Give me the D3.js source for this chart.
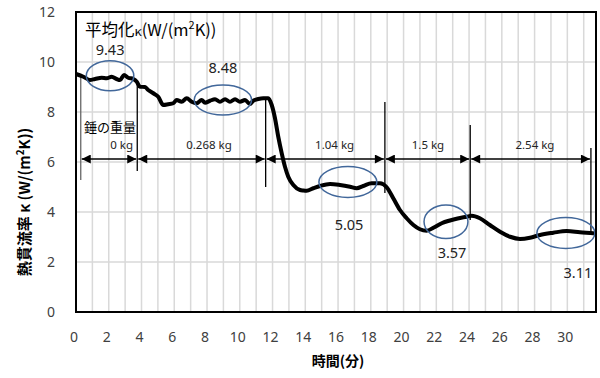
<!DOCTYPE html>
<html>
<head>
<meta charset="utf-8">
<script src="https://cdn.jsdelivr.net/npm/d3@7"></script>
<style>
  body { margin: 0; background: #fff; }
  text { font-family: "Noto Sans", "Noto Sans CJK JP", sans-serif; }
</style>
</head>
<body>
<svg id="chart"></svg>
<script>
// Chart data
var timeMin = [0, 0.45, 0.85, 1.16, 1.57, 1.87, 2.18, 2.48, 2.69, 2.93, 3.19, 3.5, 3.71, 3.91, 4.21, 4.41, 4.72,
    5.02, 5.33, 5.63, 5.94, 6.15, 6.45, 6.76, 7.06, 7.37, 7.67, 7.88, 8.18, 8.49, 8.79, 9.1, 9.4, 9.71,
    10.01, 10.32, 10.62, 10.82, 11.13, 11.43, 11.74, 11.95, 12.15, 12.35, 12.56, 12.76, 12.96, 13.27,
    13.68, 13.88, 14.08, 14.49, 14.9, 15.51, 16.12, 16.73, 17.14, 17.54, 18.05, 18.56, 18.97, 19.37,
    19.78, 20.19, 20.6, 21.0, 21.41, 21.82, 22.33, 22.83, 23.3, 23.85, 24.16, 24.66, 25.27, 25.89,
    26.5, 27.11, 27.72, 28.33, 29.14, 29.96, 30.77, 31.58, 31.75]
var kappa = [9.52, 9.41, 9.28, 9.32, 9.37, 9.35, 9.41, 9.32, 9.28, 9.48, 9.37, 9.32, 9.21, 9.01, 9.0, 8.88, 8.75,
    8.61, 8.28, 8.31, 8.35, 8.48, 8.41, 8.55, 8.41, 8.35, 8.48, 8.37, 8.45, 8.51, 8.41, 8.51, 8.41, 8.51,
    8.41, 8.48, 8.32, 8.45, 8.52, 8.55, 8.55, 8.28, 7.75, 7.01, 6.35, 5.81, 5.41, 5.08,
    4.88, 4.86, 4.85, 4.95, 5.04, 5.12, 5.08, 5.01, 4.95, 5.04, 5.15, 5.15, 4.99, 4.55,
    4.08, 3.75, 3.48, 3.31, 3.25, 3.37, 3.55, 3.66, 3.74, 3.81, 3.85, 3.75, 3.48, 3.21,
    3.01, 2.92, 2.97, 3.08, 3.17, 3.24, 3.19, 3.15, 3.14]

// weight change markers (minutes) with the span of each vertical line
var markerTime = [0.29, 3.74, 11.58, 18.86, 24.07, 31.44]
var markerTop = [9.48, 9.28, 8.6, 8.4, 7.48, 6.56]
var markerBottom = [5.28, 5.64, 5.0, 4.76, 3.68, 3.08]
var weightLabels = ["0 kg", "0.268 kg", "1.04 kg", "1.5 kg", "2.54 kg"]
var weightLabelTime = [2.79, 8.12, 15.79, 21.49, 28.02]
var arrowLevel = 6.12

// averaged values, circled on the chart
var avgLabels = ["9.43", "8.48", "5.05", "3.57", "3.11"]
var avgCenterTime = [2.08, 8.97, 16.6, 22.59, 29.91]
var avgCenterK = [9.45, 8.48, 5.2, 3.61, 3.16]
var avgRadiusTime = [1.45, 1.75, 1.77, 1.34, 1.77]
var avgRadiusK = [0.6, 0.6, 0.62, 0.67, 0.62]
var avgLabelTime = [2.08, 8.97, 16.67, 22.96, 30.65]
var avgLabelK = [10.48, 9.76, 3.48, 2.36, 1.56]

var xTicks = d3.range(0, 31, 2)
var yTicks = d3.range(0, 13, 2)

var canvasSize = {width: 600, height: 378}
var plot = {left: 76, top: 12, right: 596, bottom: 312}

var svg = d3.select("#chart")
    .attr("width", canvasSize.width)
    .attr("height", canvasSize.height)

var x = d3.scaleLinear().domain([0, 31.75]).range([plot.left, plot.right])
var y = d3.scaleLinear().domain([0, 12]).range([plot.bottom, plot.top])

// gridlines
var grid = svg.append("g").attr("stroke", "#d9d9d9").attr("stroke-width", 1.5)
grid.selectAll("line.v")
    .data(d3.range(1, 32))
    .enter().append("line")
    .attr("class", "v")
    .attr("x1", d => x(d)).attr("x2", d => x(d))
    .attr("y1", plot.top).attr("y2", plot.bottom)
grid.selectAll("line.h")
    .data(yTicks.slice(1, -1))
    .enter().append("line")
    .attr("class", "h")
    .attr("x1", plot.left).attr("x2", plot.right)
    .attr("y1", d => y(d)).attr("y2", d => y(d))

// tick labels
svg.append("g").selectAll("text")
    .data(xTicks)
    .enter().append("text")
    .attr("x", d => x(d) - 2)
    .attr("y", 342)
    .attr("text-anchor", "middle")
    .attr("font-size", 14)
    .attr("fill", "#404040")
    .text(d => d)
svg.append("g").selectAll("text")
    .data(yTicks)
    .enter().append("text")
    .attr("x", 55)
    .attr("y", d => y(d) + 5)
    .attr("text-anchor", "end")
    .attr("font-size", 14)
    .attr("fill", "#404040")
    .text(d => d)

// axis titles
svg.append("text")
    .attr("x", 338).attr("y", 366)
    .attr("text-anchor", "middle")
    .attr("font-size", 14).attr("font-weight", "bold")
    .style("font-family", "'Noto Sans CJK JP', sans-serif")
    .text("時間(分)")

var yTitle = svg.append("text")
    .attr("transform", "translate(30,202) rotate(-90)")
    .attr("text-anchor", "middle")
    .attr("font-size", 15).attr("font-weight", "bold")
    .style("font-family", "'Noto Sans CJK JP', sans-serif")
yTitle.append("tspan").text("熱貫流率  κ (W/(m")
yTitle.append("tspan").attr("font-size", 10).attr("dy", -6).text("2")
yTitle.append("tspan").attr("dy", 6).text("K))")

// weight markers and arrows
var marks = svg.append("g")
marks.selectAll("line")
    .data(markerTime)
    .enter().append("line")
    .attr("x1", d => x(d)).attr("x2", d => x(d))
    .attr("y1", (d, i) => y(markerTop[i]))
    .attr("y2", (d, i) => y(markerBottom[i]))
    .attr("stroke", (d, i) => i == 0 ? "#666" : "#000")
    .attr("stroke-width", 1.3)

svg.append("defs").append("marker")
    .attr("id", "head")
    .attr("viewBox", "0 0 10 10")
    .attr("refX", 10).attr("refY", 5)
    .attr("markerWidth", 11).attr("markerHeight", 9)
    .attr("markerUnits", "userSpaceOnUse")
    .attr("orient", "auto-start-reverse")
    .append("path").attr("d", "M0,0L10,5L0,10Z").attr("fill", "#000")

marks.selectAll("path.arrow")
    .data(markerTime.slice(0, -1))
    .enter().append("path")
    .attr("class", "arrow")
    .attr("d", (d, i) => `M${x(d) + 1},${y(arrowLevel)}H${x(markerTime[i + 1]) - 1}`)
    .attr("stroke", "#000")
    .attr("stroke-width", 1.3)
    .attr("marker-start", "url(#head)")
    .attr("marker-end", "url(#head)")

marks.selectAll("text.w")
    .data(weightLabels)
    .enter().append("text")
    .attr("class", "w")
    .attr("x", (d, i) => x(weightLabelTime[i]))
    .attr("y", y(6.68) + 4)
    .attr("text-anchor", "middle")
    .attr("font-size", 11.5)
    .attr("fill", "#222")
    .text(d => d)

marks.append("text")
    .attr("x", 84).attr("y", y(7.4) + 5)
    .attr("font-size", 13)
    .style("font-family", "'Noto Sans CJK JP', sans-serif")
    .text("錘の重量")

// kappa curve
var line = d3.line()
    .x(d => x(d[0]))
    .y(d => y(d[1]))
    .curve(d3.curveMonotoneX)
svg.append("path")
    .datum(d3.zip(timeMin, kappa))
    .attr("d", line)
    .attr("fill", "none")
    .attr("stroke", "#000")
    .attr("stroke-width", 4)
    .attr("stroke-linejoin", "round")

// circled averages
var avg = svg.append("g")
avg.selectAll("ellipse")
    .data(avgLabels)
    .enter().append("ellipse")
    .attr("cx", (d, i) => x(avgCenterTime[i]))
    .attr("cy", (d, i) => y(avgCenterK[i]))
    .attr("rx", (d, i) => x(avgRadiusTime[i]) - x(0))
    .attr("ry", (d, i) => y(0) - y(avgRadiusK[i]))
    .attr("fill", "none")
    .attr("stroke", "#41679a")
    .attr("stroke-width", 1.5)
avg.selectAll("text")
    .data(avgLabels)
    .enter().append("text")
    .attr("x", (d, i) => x(avgLabelTime[i]))
    .attr("y", (d, i) => y(avgLabelK[i]) + 5)
    .attr("text-anchor", "middle")
    .attr("font-size", 14.5)
    .attr("fill", "#222")
    .text(d => d)

// legend style caption
var cap = svg.append("text")
    .attr("x", 85).attr("y", 36)
    .attr("font-size", 16.5)
    .style("font-family", "'Noto Sans CJK JP', sans-serif")
cap.append("tspan").text("平均化")
cap.append("tspan").attr("font-size", 13).text("κ")
cap.append("tspan").text("(W/(m")
cap.append("tspan").attr("font-size", 11).attr("dy", -7).text("2")
cap.append("tspan").attr("dy", 7).text("K))")

// plot border
svg.append("rect")
    .attr("x", plot.left).attr("y", plot.top)
    .attr("width", plot.right - plot.left)
    .attr("height", plot.bottom - plot.top)
    .attr("fill", "none")
    .attr("stroke", "#000")
    .attr("stroke-width", 2)
</script>
</body>
</html>
